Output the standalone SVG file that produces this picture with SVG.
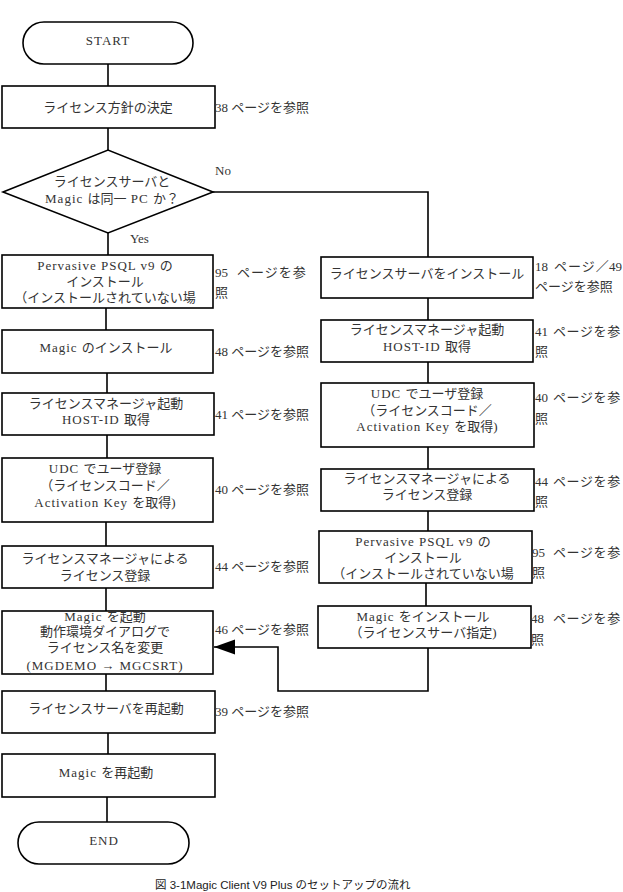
<svg xmlns="http://www.w3.org/2000/svg" width="623" height="892" viewBox="0 0 623 892">
<style>
.box{fill:#fff;stroke:#000;stroke-width:1.6}
.t{font-family:"Liberation Serif","Noto Sans CJK JP",serif;font-size:13px;fill:#333;text-anchor:middle}
.r{font-family:"Liberation Serif","Noto Sans CJK JP",serif;font-size:13px;fill:#333}
.l{letter-spacing:1px}
.c{fill:none;stroke:#000;stroke-width:1.6}
.cap{font-family:"Liberation Sans","Noto Sans CJK JP",sans-serif;font-size:11.5px;fill:#222}
</style>
<defs>
<marker id="ah" markerWidth="22" markerHeight="16" refX="21" refY="7.5" orient="auto" markerUnits="userSpaceOnUse">
<path d="M0,0 L21,7.5 L0,15 Z" fill="#000"/>
</marker>
</defs>
<g id="connectors">
<path class="c" d="M108,64 V86"/>
<path class="c" d="M108,128 V150"/>
<path class="c" d="M108,233 V255"/>
<path class="c" d="M106,308 V330"/>
<path class="c" d="M107,373 V393"/>
<path class="c" d="M107,435 V458"/>
<path class="c" d="M106,522 V546"/>
<path class="c" d="M106,588 V611"/>
<path class="c" d="M106,674 V691"/>
<path class="c" d="M108,733 V754"/>
<path class="c" d="M107,797 V822"/>
<path class="c" d="M213,192 H428 V257"/>
<path class="c" d="M428,298 V320"/>
<path class="c" d="M428,362 V383"/>
<path class="c" d="M428,447 V469"/>
<path class="c" d="M428,511 V531"/>
<path class="c" d="M426,583 V606"/>
<path class="c" d="M428,648 V691 H278 V647 H214" marker-end="url(#ah)"/>
</g>
<g id="start">
<rect class="box" x="23" y="22" width="170" height="42" rx="21" ry="21"/>
<text class="t l" x="108" y="45">START</text>
</g>
<g id="decide">
<rect class="box" x="2" y="86" width="213" height="42"/>
<text class="t" x="108" y="112">ライセンス方針の決定</text>
<text class="r" x="215" y="112">38 ページを参照</text>
</g>
<g id="diamond">
<polygon class="box" points="3,192 108,150 213,192 108,233"/>
<text class="t" x="112" y="186">ライセンスサーバと</text>
<text class="t" x="112" y="203"><tspan class="l">Magic </tspan>は同一<tspan class="l"> PC </tspan>か？</text>
<text class="r" x="215" y="175">No</text>
<text class="r" x="130" y="243">Yes</text>
</g>
<g id="l-psql">
<rect class="box" x="2" y="255" width="211" height="53"/>
<text class="t" x="105" y="270"><tspan class="l">Pervasive PSQL v9 </tspan>の</text>
<text class="t" x="105" y="286">インストール</text>
<text class="t" x="105" y="302">（インストールされていない場</text>
<text class="r" x="215" y="277">95<tspan x="237" letter-spacing="1">ページを参</tspan><tspan x="215" y="297">照</tspan></text>
</g>
<g id="l-magic">
<rect class="box" x="2" y="330" width="211" height="43"/>
<text class="t" x="106" y="352"><tspan class="l">Magic </tspan>のインストール</text>
<text class="r" x="215" y="356">48 ページを参照</text>
</g>
<g id="l-lm">
<rect class="box" x="2" y="393" width="212" height="42"/>
<text class="t" x="106" y="408">ライセンスマネージャ起動</text>
<text class="t" x="106" y="424"><tspan class="l">HOST-ID </tspan>取得</text>
<text class="r" x="215" y="419">41 ページを参照</text>
</g>
<g id="l-udc">
<rect class="box" x="2" y="458" width="211" height="64"/>
<text class="t" x="105" y="473"><tspan class="l">UDC </tspan>でユーザ登録</text>
<text class="t" x="105" y="490">（ライセンスコード／</text>
<text class="t" x="105" y="507"><tspan class="l">Activation Key </tspan>を取得)</text>
<text class="r" x="215" y="494">40 ページを参照</text>
</g>
<g id="l-reg">
<rect class="box" x="2" y="546" width="211" height="42"/>
<text class="t" x="105" y="563">ライセンスマネージャによる</text>
<text class="t" x="105" y="580">ライセンス登録</text>
<text class="r" x="215" y="571">44 ページを参照</text>
</g>
<g id="l-start">
<rect class="box" x="2" y="611" width="211" height="63"/>
<text class="t" x="105" y="621"><tspan class="l">Magic </tspan>を起動</text>
<text class="t" x="105" y="636">動作環境ダイアログで</text>
<text class="t" x="105" y="652">ライセンス名を変更</text>
<text class="t l" x="105" y="670">(MGDEMO → MGCSRT)</text>
<text class="r" x="215" y="634">46 ページを参照</text>
</g>
<g id="l-restart-ls">
<rect class="box" x="2" y="691" width="213" height="42"/>
<text class="t" x="106" y="713">ライセンスサーバを再起動</text>
<text class="r" x="215" y="716">39 ページを参照</text>
</g>
<g id="l-restart-magic">
<rect class="box" x="2" y="754" width="213" height="43"/>
<text class="t" x="106" y="777"><tspan class="l">Magic </tspan>を再起動</text>
</g>
<g id="end">
<rect class="box" x="18" y="822" width="171" height="42" rx="21" ry="21"/>
<text class="t l" x="104" y="845">END</text>
</g>
<g id="r-ls">
<rect class="box" x="321" y="257" width="212" height="41"/>
<text class="t" x="427" y="278">ライセンスサーバをインストール</text>
<text class="r" x="535" y="271">18<tspan x="554" letter-spacing="1">ページ／</tspan><tspan x="609">49</tspan><tspan x="535" y="291">ページを参照</tspan></text>
</g>
<g id="r-lm">
<rect class="box" x="321" y="320" width="212" height="42"/>
<text class="t" x="427" y="334">ライセンスマネージャ起動</text>
<text class="t" x="427" y="351"><tspan class="l">HOST-ID </tspan>取得</text>
<text class="r" x="535" y="336">41<tspan x="553" letter-spacing="0.6">ページを参</tspan><tspan x="535" y="356">照</tspan></text>
</g>
<g id="r-udc">
<rect class="box" x="321" y="383" width="213" height="64"/>
<text class="t" x="427" y="398"><tspan class="l">UDC </tspan>でユーザ登録</text>
<text class="t" x="427" y="415">（ライセンスコード／</text>
<text class="t" x="427" y="431"><tspan class="l">Activation Key </tspan>を取得)</text>
<text class="r" x="535" y="402">40<tspan x="553" letter-spacing="0.6">ページを参</tspan><tspan x="535" y="423">照</tspan></text>
</g>
<g id="r-reg">
<rect class="box" x="321" y="469" width="213" height="42"/>
<text class="t" x="427" y="483">ライセンスマネージャによる</text>
<text class="t" x="427" y="499">ライセンス登録</text>
<text class="r" x="535" y="486">44<tspan x="553" letter-spacing="0.6">ページを参</tspan><tspan x="535" y="506">照</tspan></text>
</g>
<g id="r-psql">
<rect class="box" x="319" y="531" width="213" height="52"/>
<text class="t" x="423" y="546"><tspan class="l">Pervasive PSQL v9 </tspan>の</text>
<text class="t" x="423" y="562">インストール</text>
<text class="t" x="423" y="578">（インストールされていない場</text>
<text class="r" x="532" y="557">95<tspan x="553" letter-spacing="0.6">ページを参</tspan><tspan x="532" y="577">照</tspan></text>
</g>
<g id="r-magic">
<rect class="box" x="318" y="606" width="213" height="42"/>
<text class="t" x="423" y="621"><tspan class="l">Magic </tspan>をインストール</text>
<text class="t" x="423" y="637">（ライセンスサーバ指定)</text>
<text class="r" x="531" y="623">48<tspan x="553" letter-spacing="0.6">ページを参</tspan><tspan x="531" y="644">照</tspan></text>
</g>
<text class="cap" x="155" y="889">図 3-1Magic Client V9 Plus のセットアップの流れ</text>
</svg>
